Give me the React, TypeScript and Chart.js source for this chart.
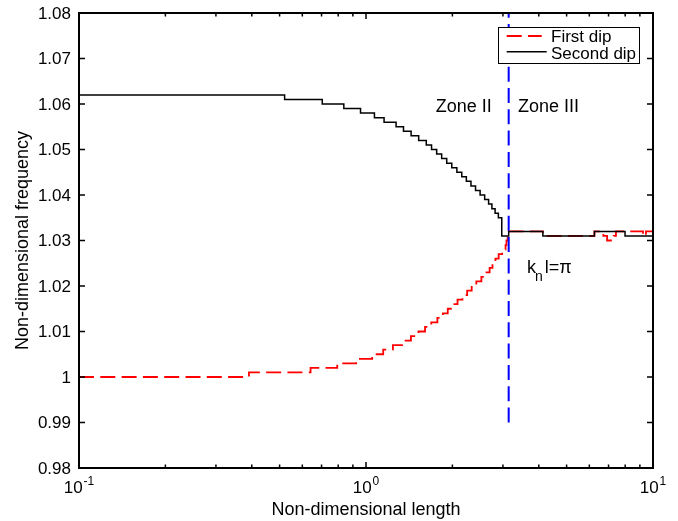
import React, { useEffect, useRef } from "react";
import { Chart, registerables } from "chart.js";

Chart.register(...registerables);

// ---- Data ----
const secondDipX = [
  0.1, 0.5205, 0.704, 0.837, 0.957, 1.07, 1.156, 1.273, 1.351, 1.436, 1.526,
  1.622, 1.692, 1.763, 1.835, 1.911, 1.99, 2.073, 2.156, 2.237, 2.321, 2.408,
  2.498, 2.591, 2.674, 2.746, 2.817, 2.892, 2.972, 3.1416, 4.133, 6.25, 7.99, 10,
];
const secondDipY = [
  1.062, 1.061, 1.06, 1.059, 1.058, 1.057, 1.056, 1.055, 1.054, 1.053, 1.052,
  1.051, 1.05, 1.049, 1.048, 1.047, 1.046, 1.045, 1.044, 1.043, 1.042, 1.041,
  1.04, 1.039, 1.038, 1.037, 1.036, 1.035, 1.031, 1.032, 1.031, 1.032, 1.031, 1.031,
];

const firstDipX = [
  0.1, 0.391, 0.641, 0.794, 0.924, 1.051, 1.148, 1.241, 1.337, 1.434, 1.523,
  1.606, 1.688, 1.773, 1.853, 1.927, 2.004, 2.084, 2.168, 2.251, 2.335, 2.423,
  2.524, 2.629, 2.696, 2.759, 2.824, 2.899, 2.981, 3.064, 3.086, 3.116, 3.1416,
  4.133, 6.25, 6.715, 6.92, 7.29, 7.43, 9.23, 9.45, 10,
];
const firstDipY = [
  1.0, 1.001, 1.002, 1.003, 1.004, 1.005, 1.006, 1.007, 1.008, 1.009, 1.01,
  1.011, 1.012, 1.013, 1.014, 1.015, 1.016, 1.017, 1.018, 1.019, 1.02, 1.021,
  1.022, 1.023, 1.024, 1.025, 1.026, 1.027, 1.028, 1.029, 1.03, 1.031, 1.032,
  1.031, 1.032, 1.031, 1.03, 1.031, 1.032, 1.031, 1.032, 1.032,
];

const boundaryX = [Math.PI, Math.PI];
const boundaryY = [0.99, 1.08];

const yTicks = [0.98, 0.99, 1.0, 1.01, 1.02, 1.03, 1.04, 1.05, 1.06, 1.07, 1.08];
const yTickLabels = ["0.98", "0.99", "1", "1.01", "1.02", "1.03", "1.04", "1.05", "1.06", "1.07", "1.08"];
const xMajorTicks = [0.1, 1, 10];
const xMajorExponents = ["-1", "0", "1"];
const xMinorTicks = [0.2, 0.3, 0.4, 0.5, 0.6, 0.7, 0.8, 0.9, 2, 3, 4, 5, 6, 7, 8, 9];
const seriesLabels = ["First dip", "Second dip"];
const xTitle = "Non-dimensional length";
const yTitle = "Non-dimensional frequency";
const zoneLeftLabel = "Zone II";
const zoneRightLabel = "Zone III";

const FONT = '"Liberation Sans", Arial, Helvetica, sans-serif';
const DASH = [15, 6.3];

const toPoints = (xs: number[], ys: number[]) => xs.map((x, i) => ({ x, y: ys[i] }));

const matlabAxes = {
  id: "matlabAxes",
  afterDraw(chart: any) {
    const { ctx, chartArea: a, scales } = chart;
    const xs = scales.x;
    const ys = scales.y;
    ctx.save();

    // box
    ctx.strokeStyle = "#000";
    ctx.setLineDash([]);
    ctx.lineWidth = 2;
    ctx.strokeRect(a.left, a.top, a.right - a.left, a.bottom - a.top);

    // ticks (inward, all four sides)
    ctx.lineWidth = 1.5;
    ctx.beginPath();
    yTicks.forEach((v) => {
      const y = ys.getPixelForValue(v);
      ctx.moveTo(a.left, y);
      ctx.lineTo(a.left + 6, y);
      ctx.moveTo(a.right, y);
      ctx.lineTo(a.right - 6, y);
    });
    xMajorTicks.forEach((v) => {
      const x = xs.getPixelForValue(v);
      ctx.moveTo(x, a.bottom);
      ctx.lineTo(x, a.bottom - 6);
      ctx.moveTo(x, a.top);
      ctx.lineTo(x, a.top + 6);
    });
    xMinorTicks.forEach((v) => {
      const x = xs.getPixelForValue(v);
      ctx.moveTo(x, a.bottom);
      ctx.lineTo(x, a.bottom - 3.5);
      ctx.moveTo(x, a.top);
      ctx.lineTo(x, a.top + 3.5);
    });
    ctx.stroke();

    ctx.fillStyle = "#000";
    // y tick labels
    ctx.font = `17px ${FONT}`;
    ctx.textAlign = "right";
    ctx.textBaseline = "middle";
    yTicks.forEach((v, i) => {
      ctx.fillText(yTickLabels[i], a.left - 8, ys.getPixelForValue(v) + 1);
    });

    // x tick labels with superscripts
    ctx.textAlign = "left";
    ctx.textBaseline = "alphabetic";
    xMajorTicks.forEach((v, i) => {
      const x = xs.getPixelForValue(v);
      ctx.font = `17px ${FONT}`;
      const wb = ctx.measureText("10").width;
      ctx.font = `12px ${FONT}`;
      const we = ctx.measureText(xMajorExponents[i]).width;
      const x0 = x - (wb + we + 1) / 2;
      ctx.font = `17px ${FONT}`;
      ctx.fillText("10", x0, a.bottom + 25);
      ctx.font = `12px ${FONT}`;
      ctx.fillText(xMajorExponents[i], x0 + wb + 1, a.bottom + 17);
    });

    // axis titles
    ctx.font = `18px ${FONT}`;
    ctx.textAlign = "center";
    ctx.fillText(xTitle, (a.left + a.right) / 2, a.bottom + 46.5);
    ctx.save();
    ctx.translate(28, (a.top + a.bottom) / 2);
    ctx.rotate(-Math.PI / 2);
    ctx.fillText(yTitle, 0, 0);
    ctx.restore();

    // annotations
    const px = xs.getPixelForValue(Math.PI);
    ctx.font = `18px ${FONT}`;
    ctx.textAlign = "right";
    ctx.fillText(zoneLeftLabel, px - 17, a.top + 98.7);
    ctx.textAlign = "left";
    ctx.fillText(zoneRightLabel, px + 9.3, a.top + 98.7);

    const kx = px + 18.3;
    const kb = a.top + 260.3;
    ctx.font = `18px ${FONT}`;
    ctx.fillText("k", kx, kb);
    const kw = ctx.measureText("k").width;
    ctx.font = `14px ${FONT}`;
    ctx.fillText("n", kx + kw - 1, kb + 8);
    const nw = ctx.measureText("n").width;
    ctx.font = `18px ${FONT}`;
    ctx.fillText("l=\u03c0", kx + kw + nw + 1, kb);

    // legend
    const lx = 498, ly = 27, lw = 141, lh = 36;
    ctx.fillStyle = "#fff";
    ctx.fillRect(lx, ly, lw, lh);
    ctx.strokeStyle = "#000";
    ctx.lineWidth = 1;
    ctx.strokeRect(lx + 0.5, ly + 0.5, lw, lh);

    ctx.beginPath();
    ctx.strokeStyle = "#ff0000";
    ctx.lineWidth = 1.8;
    ctx.setLineDash(DASH);
    ctx.moveTo(lx + 8.7, ly + 9);
    ctx.lineTo(lx + 43.7, ly + 9);
    ctx.stroke();

    ctx.beginPath();
    ctx.strokeStyle = "#000";
    ctx.lineWidth = 1.5;
    ctx.setLineDash([]);
    ctx.moveTo(lx + 8.7, ly + 24.7);
    ctx.lineTo(lx + 48.7, ly + 24.7);
    ctx.stroke();

    ctx.fillStyle = "#000";
    ctx.font = `17px ${FONT}`;
    ctx.textAlign = "left";
    ctx.fillText(seriesLabels[0], lx + 53, ly + 15.3);
    ctx.fillText(seriesLabels[1], lx + 53, ly + 32);

    ctx.restore();
  },
};

export default function App() {
  const ref = useRef<HTMLCanvasElement | null>(null);

  useEffect(() => {
    if (!ref.current) return;
    const chart = new Chart(ref.current, {
      type: "line",
      data: {
        datasets: [
          {
            label: "k_n l = pi",
            data: toPoints(boundaryX, boundaryY),
            borderColor: "#0000ff",
            borderWidth: 2,
            borderDash: DASH,
            pointRadius: 0,
            fill: false,
          },
          {
            label: seriesLabels[1],
            data: toPoints(secondDipX, secondDipY),
            borderColor: "#000000",
            borderWidth: 1.5,
            stepped: "before",
            pointRadius: 0,
            fill: false,
          },
          {
            label: seriesLabels[0],
            data: toPoints(firstDipX, firstDipY),
            borderColor: "#ff0000",
            borderWidth: 1.8,
            borderDash: DASH,
            stepped: "before",
            pointRadius: 0,
            fill: false,
          },
        ],
      },
      options: {
        responsive: false,
        animation: false,
        devicePixelRatio: 1,
        layout: { padding: { left: 79, right: 25, top: 13, bottom: 53 } },
        scales: {
          x: { type: "logarithmic", min: 0.1, max: 10, display: false },
          y: { type: "linear", min: 0.98, max: 1.08, display: false },
        },
        plugins: {
          legend: { display: false },
          tooltip: { enabled: false },
        },
        elements: { point: { radius: 0 } },
      },
      plugins: [matlabAxes],
    } as any);
    return () => chart.destroy();
  }, []);

  return (
    <div style={{ position: "fixed", left: 0, top: 0, width: 678, height: 521, background: "#fff" }}>
      <canvas ref={ref} width={678} height={521} style={{ display: "block", width: 678, height: 521 }} />
    </div>
  );
}
